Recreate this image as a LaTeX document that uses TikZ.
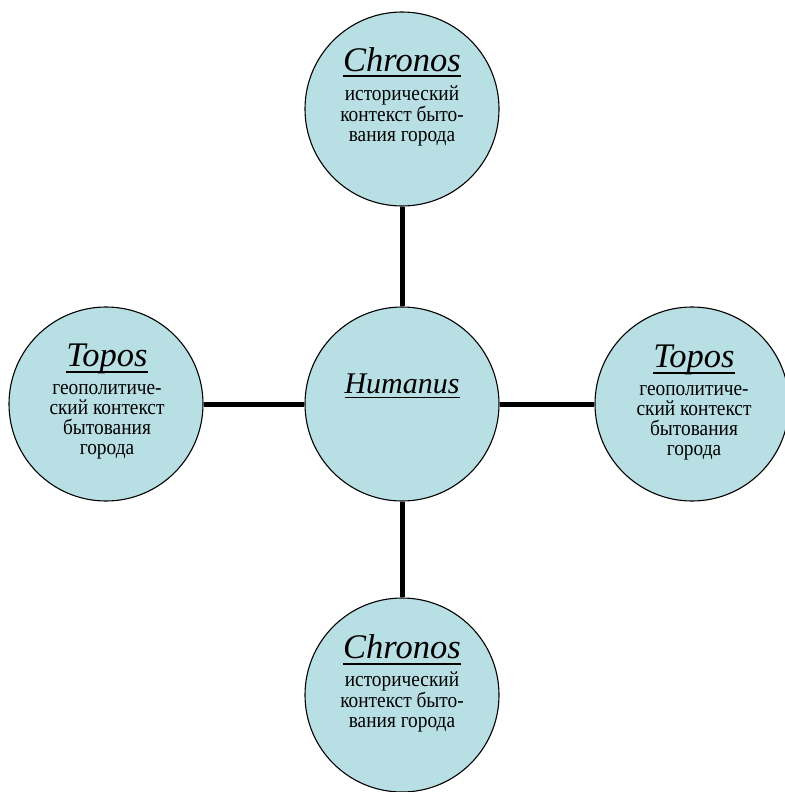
\documentclass[tikz,border=0pt]{standalone}
\usepackage{fontspec}
\setmainfont{Liberation Serif}
\newfontfamily\narrowserif{Liberation Serif}[FakeStretch=0.9]
\usetikzlibrary{positioning}
\definecolor{SphereFill}{RGB}{184,223,227}
\newsavebox{\ulbox}
\newcommand{\ulword}[1]{\sbox{\ulbox}{#1}\rlap{\rule[-0.18em]{\wd\ulbox}{0.055em}}\usebox{\ulbox}}
\newcommand{\headword}[1]{{\rmfamily\fontsize{34.5}{30}\selectfont\itshape\ulword{#1}}}
\newcommand{\bodyfont}{\narrowserif\fontsize{21.5}{20.3}\selectfont\setlength{\lineskiplimit}{-20pt}\setlength{\lineskip}{0pt}}

\begin{document}
\begin{tikzpicture}[x=1pt,y=-1pt,
  sphere/.style={circle,draw=black,line width=1.1pt,fill=SphereFill,minimum size=194pt,inner sep=0pt},
  caption/.style={align=center,inner sep=0pt,anchor=north,font=\bodyfont},
  link/.style={line width=5pt}]
  \useasboundingbox (0,0) rectangle (784,792);
  \node[sphere] (hub) at (402,404) {};
  \node[sphere] (chronosUp) at (402,109) {};
  \node[sphere] (chronosDown) at (402,695) {};
  \node[sphere] (toposLeft) at (106,404) {};
  \node[sphere] (toposRight) at (692,404) {};
  \draw[link] (chronosUp) -- (hub);
  \draw[link] (hub) -- (chronosDown);
  \draw[link] (toposLeft) -- (hub);
  \draw[link] (hub) -- (toposRight);
  \node[anchor=base,inner sep=0pt,font=\fontsize{30}{30}\selectfont\itshape] (hubtext) at (402,393) {\ulword{Humanus}};
  \node[caption] (chronosUptext) at (402,47) {\headword{Chronos}\\[9.5pt]
    исторический\\контекст быто-\\вания города};
  \node[caption] (chronosDowntext) at (402,634.4) {\headword{Chronos}\\[8pt]
    исторический\\контекст быто-\\вания города};
  \node[caption] (toposLefttext) at (107,343.5) {\headword{Topos}\\[7.5pt]
    геополитиче-\\ский контекст\\бытования\\города};
  \node[caption] (toposRighttext) at (694,344.5) {\headword{Topos}\\[7.5pt]
    геополитиче-\\ский контекст\\бытования\\города};
\end{tikzpicture}
\end{document}
